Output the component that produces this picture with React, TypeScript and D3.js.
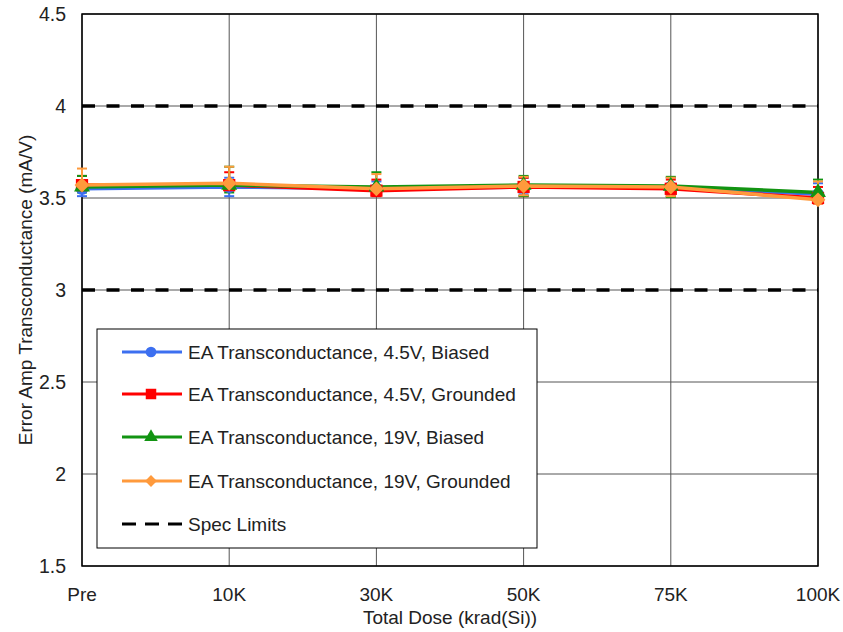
import React from "react";
import * as d3 from "d3";

const categories = ["Pre", "10K", "30K", "50K", "75K", "100K"];
const yTicks = [1.5, 2, 2.5, 3, 3.5, 4, 4.5];
const specLimits = [3, 4];

const biased45 = [3.55, 3.56, 3.55, 3.56, 3.56, 3.52];
const grounded45 = [3.57, 3.57, 3.54, 3.56, 3.55, 3.5];
const biased19 = [3.56, 3.57, 3.56, 3.57, 3.565, 3.53];
const grounded19 = [3.57, 3.58, 3.55, 3.565, 3.56, 3.49];

// error bar half-widths (upper / lower)
const errUpBiased45 = [0.04, 0.05, 0.04, 0.05, 0.05, 0.06];
const errDnBiased45 = [0.04, 0.05, 0.03, 0.04, 0.04, 0.03];
const errUpGrounded45 = [0.05, 0.07, 0.06, 0.05, 0.05, 0.06];
const errDnGrounded45 = [0.03, 0.03, 0.03, 0.05, 0.04, 0.03];
const errUpBiased19 = [0.06, 0.1, 0.08, 0.05, 0.05, 0.07];
const errDnBiased19 = [0.03, 0.04, 0.03, 0.06, 0.06, 0.03];
const errUpGrounded19 = [0.09, 0.09, 0.08, 0.05, 0.05, 0.1];
const errDnGrounded19 = [0.02, 0.02, 0.02, 0.05, 0.05, 0.02];

const seriesNames = [
  "EA Transconductance, 4.5V, Biased",
  "EA Transconductance, 4.5V, Grounded",
  "EA Transconductance, 19V, Biased",
  "EA Transconductance, 19V, Grounded",
];
const seriesColors = ["#3c6ff0", "#ff0000", "#129412", "#ff9a3c"];
const seriesValues = [biased45, grounded45, biased19, grounded19];
const seriesErrUp = [errUpBiased45, errUpGrounded45, errUpBiased19, errUpGrounded19];
const seriesErrDn = [errDnBiased45, errDnGrounded45, errDnBiased19, errDnGrounded19];
const seriesShapes = [d3.symbolCircle, d3.symbolSquare, d3.symbolTriangle, d3.symbolSquare];
const seriesRotations = [0, 0, 0, 45];
const seriesSizes = [120, 150, 110, 110];
const legendSizes = [90, 110, 80, 70];

const W = 843;
const H = 632;
const M = { left: 82, right: 25, top: 14, bottom: 66 };
const FONT = "'Liberation Sans', Arial, sans-serif";

export default function App() {
  const x = d3
    .scalePoint<string>()
    .domain(categories)
    .range([M.left, W - M.right]);
  const y = d3
    .scaleLinear()
    .domain([1.5, 4.5])
    .range([H - M.bottom, M.top]);

  const line = d3
    .line<number>()
    .x((_, i) => x(categories[i]) as number)
    .y((d) => y(d));

  const plotL = M.left;
  const plotR = W - M.right;
  const plotT = M.top;
  const plotB = H - M.bottom;

  const legendX = 97;
  const legendY = 329;
  const legendW = 440;
  const legendH = 219;
  const rowYs = [352, 394, 437, 481, 524];

  return (
    <svg
      width={W}
      height={H}
      style={{ position: "absolute", left: 0, top: 0, background: "#fff" }}
      fontFamily={FONT}
    >
      <rect x={0} y={0} width={W} height={H} fill="#fff" />
      {/* grid */}
      {categories.map((c) => (
        <line
          key={"vg" + c}
          x1={x(c)}
          x2={x(c)}
          y1={plotT}
          y2={plotB}
          stroke="#555"
          strokeWidth={1}
        />
      ))}
      {yTicks.map((t) => (
        <line
          key={"hg" + t}
          x1={plotL}
          x2={plotR}
          y1={y(t)}
          y2={y(t)}
          stroke="#555"
          strokeWidth={1}
        />
      ))}
      {specLimits.map((t) => (
        <line
          key={"spec" + t}
          x1={plotL}
          x2={plotR}
          y1={y(t)}
          y2={y(t)}
          stroke="#000"
          strokeWidth={3.5}
          strokeDasharray="13,11.5"
        />
      ))}
      <rect
        x={plotL}
        y={plotT}
        width={plotR - plotL}
        height={plotB - plotT}
        fill="none"
        stroke="#000"
        strokeWidth={1.5}
      />
      {/* y ticks */}
      {yTicks.map((t) => (
        <text
          key={"yt" + t}
          x={66}
          y={y(t)}
          dy="0.35em"
          textAnchor="end"
          fontSize={19.5}
          fill="#222"
        >
          {t}
        </text>
      ))}
      {categories.map((c) => (
        <text
          key={"xt" + c}
          x={x(c)}
          y={594}
          dy="0.35em"
          textAnchor="middle"
          fontSize={19}
          fill="#222"
        >
          {c}
        </text>
      ))}
      <text x={450} y={617} dy="0.35em" textAnchor="middle" fontSize={19} fill="#222">
        Total Dose (krad(Si))
      </text>
      <text
        transform={`translate(25,${(plotT + plotB) / 2}) rotate(-90)`}
        textAnchor="middle"
        dy="0.35em"
        fontSize={19}
        fill="#222"
      >
        Error Amp Transconductance (mA/V)
      </text>
      {/* series lines */}
      {seriesValues.map((vals, si) => (
        <path
          key={"l" + si}
          d={line(vals) || ""}
          fill="none"
          stroke={seriesColors[si]}
          strokeWidth={3.5}
        />
      ))}
      {/* error bars */}
      {seriesValues.map((vals, si) =>
        vals.map((v, i) => {
          const cx = x(categories[i]) as number;
          const eu = seriesErrUp[si][i];
          const ed = seriesErrDn[si][i];
          return (
            <g key={"e" + si + "-" + i} stroke={seriesColors[si]} strokeWidth={2}>
              <line x1={cx} x2={cx} y1={y(v + eu)} y2={y(v - ed)} />
              <line x1={cx - 5} x2={cx + 5} y1={y(v + eu)} y2={y(v + eu)} />
              <line x1={cx - 5} x2={cx + 5} y1={y(v - ed)} y2={y(v - ed)} />
            </g>
          );
        })
      )}
      {/* markers */}
      {seriesValues.map((vals, si) =>
        vals.map((v, i) => (
          <path
            key={"m" + si + "-" + i}
            transform={`translate(${x(categories[i])},${y(v)}) rotate(${seriesRotations[si]})`}
            d={d3.symbol().type(seriesShapes[si]).size(seriesSizes[si])() || ""}
            fill={seriesColors[si]}
          />
        ))
      )}
      {/* legend */}
      <rect
        x={legendX}
        y={legendY}
        width={legendW}
        height={legendH}
        fill="#fff"
        stroke="#000"
        strokeWidth={1}
      />
      {seriesNames.map((name, si) => (
        <g key={"lg" + si}>
          <line
            x1={122}
            x2={182}
            y1={rowYs[si]}
            y2={rowYs[si]}
            stroke={seriesColors[si]}
            strokeWidth={3}
          />
          <path
            transform={`translate(151,${rowYs[si]}) rotate(${seriesRotations[si]})`}
            d={d3.symbol().type(seriesShapes[si]).size(legendSizes[si])() || ""}
            fill={seriesColors[si]}
          />
          <text x={188} y={rowYs[si]} dy="0.35em" fontSize={19} fill="#222">
            {name}
          </text>
        </g>
      ))}
      <line
        x1={122}
        x2={182}
        y1={rowYs[4]}
        y2={rowYs[4]}
        stroke="#000"
        strokeWidth={3}
        strokeDasharray="14,9"
      />
      <text x={188} y={rowYs[4]} dy="0.35em" fontSize={19} fill="#222">
        Spec Limits
      </text>
    </svg>
  );
}
